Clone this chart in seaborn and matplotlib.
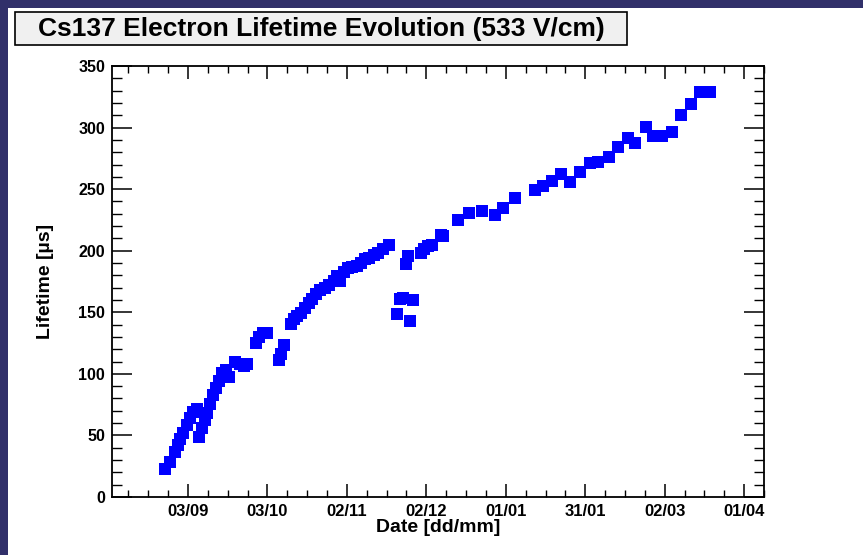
import numpy as np
import pandas as pd
import matplotlib
matplotlib.use("Agg")
import matplotlib.pyplot as plt
import seaborn as sns
from matplotlib.patches import Rectangle
from matplotlib.ticker import MultipleLocator, FixedLocator

# Days since 03/09
days = [-8.7, -6.8, -4.9, -3.8, -3.0, -1.9, -0.4, 0.8, 1.9, 3.4,
        4.2, 5.3, 6.4, 7.2, 8.3, 9.4, 10.6, 11.7, 12.8, 14.4,
        15.5, 17.7, 19.6, 21.1, 22.3,
        25.7, 26.8, 28.3, 29.8, 34.4, 35.1, 36.3,
        38.9, 40.0, 41.2, 42.7, 44.2, 45.7, 46.8, 48.3, 49.8, 51.7,
        53.2, 55.1, 56.3, 57.4, 58.9, 60.4, 61.9, 63.8, 65.3, 66.8,
        68.4, 70.2, 71.8, 73.6, 75.9,
        78.9, 80.1, 81.2, 82.3, 83.1, 83.8, 85.0,
        88.0, 89.1, 90.6, 92.1, 95.5, 96.3,
        102.0, 106.1, 111.0, 115.9, 119.0, 123.5,
        131.0, 134.1, 137.5, 140.9, 144.3, 148.0, 151.8, 154.8, 159.0,
        162.4, 166.2, 168.8, 173.0, 175.6, 179.0, 182.8, 186.2, 190.0,
        193.4, 197.1]
lifetime = [22.7, 28.4, 36.5, 42.0, 47.0, 52.0, 58.5, 64.0, 69.0, 71.5,
            48.7, 56.0, 62.5, 68.0, 75.5, 83.0, 88.5, 94.0, 100.7, 103.0,
            97.5, 109.6, 108.0, 106.4, 108.0,
            125.0, 130.0, 133.0, 133.0, 111.0, 116.0, 123.4,
            140.5, 144.5, 147.0, 149.4, 153.5, 157.5, 160.8, 164.9, 168.0, 169.7,
            172.0, 175.4, 179.5, 175.4, 182.7, 186.0, 186.8, 187.6, 190.0, 193.3,
            194.0, 196.5, 198.0, 201.4, 204.6,
            148.6, 160.8, 161.6, 189.0, 195.7, 143.0, 160.0,
            198.0, 201.4, 203.8, 204.6, 212.8, 212.0,
            225.0, 230.6, 232.3, 229.0, 234.7, 242.8,
            249.3, 252.6, 256.6, 262.3, 255.8, 264.0, 271.2, 272.0, 276.0,
            284.2, 291.5, 287.5, 300.5, 293.2, 293.2, 296.4, 310.2, 319.2,
            328.9, 328.9]

tick_days = [0, 30, 60, 90, 120, 150, 180, 210]
tick_labels = ["03/09", "03/10", "02/11", "02/12", "01/01", "31/01", "02/03", "01/04"]

title = "Cs137 Electron Lifetime Evolution (533 V/cm)"

sns.set_style("ticks")
plt.rcParams['font.family'] = ['Liberation Sans', 'DejaVu Sans']
plt.rcParams['font.weight'] = 'bold'
plt.rcParams['text.color'] = 'black'
plt.rcParams['axes.labelcolor'] = 'black'

W, H = 863, 555
fig = plt.figure(figsize=(W / 100, H / 100), dpi=100)
fig.patch.set_facecolor("white")

# navy frame bands
navy = "#31306a"
fig.add_artist(Rectangle((0, 1 - 8 / H), 1, 8 / H, transform=fig.transFigure,
                         facecolor=navy, edgecolor="none", zorder=0))
fig.add_artist(Rectangle((0, 0), 8 / W, 1, transform=fig.transFigure,
                         facecolor=navy, edgecolor="none", zorder=0))

ax = fig.add_axes([112 / W, 1 - 497 / H, (764 - 112) / W, (497 - 66) / H])
df = pd.DataFrame({"day": days, "lifetime": lifetime})
sns.scatterplot(data=df, x="day", y="lifetime", marker="s", s=72,
                color="#0000ff", linewidth=0, ax=ax, zorder=3)

ax.set_xlim(-28.7, 217.5)
ax.set_ylim(0, 350)
ax.xaxis.set_major_locator(FixedLocator(tick_days))
ax.set_xticklabels(tick_labels)
ax.xaxis.set_minor_locator(MultipleLocator(7.5))
ax.yaxis.set_major_locator(MultipleLocator(50))
ax.yaxis.set_minor_locator(MultipleLocator(10))

ax.tick_params(axis='x', which='major', direction='in', length=9.4, width=1.1,
               top=True, bottom=True, labelsize=12, pad=5, colors='black')
ax.tick_params(axis='x', which='minor', direction='in', length=4.7, width=1.0,
               top=True, bottom=True, colors='black')
ax.tick_params(axis='y', which='major', direction='in', length=14.4, width=1.1,
               left=True, right=True, labelsize=11.5, pad=5, colors='black')
ax.tick_params(axis='y', which='minor', direction='in', length=7.2, width=1.0,
               left=True, right=True, colors='black')
for lab in ax.get_xticklabels() + ax.get_yticklabels():
    lab.set_fontweight('bold')

for sp in ax.spines.values():
    sp.set_visible(True)
    sp.set_linewidth(1.3)
    sp.set_color('black')

ax.set_xlabel("Date [dd/mm]", fontsize=14, fontweight='bold', color='black')
ax.set_ylabel("Lifetime [µs]", fontsize=14, fontweight='bold', color='black')
ax.xaxis.set_label_coords(0.5, (497 - 519) / 431)
ax.yaxis.set_label_coords((54 - 112) / 653, 0.5)

# title box
fig.add_artist(Rectangle((15 / W, 1 - 45 / H), 612 / W, 33 / H, transform=fig.transFigure,
                         facecolor="#f0f0f0", edgecolor="black", linewidth=1.2, zorder=1))
fig.text(321 / W, 1 - 29 / H, title, ha='center', va='center', fontsize=19,
         fontweight='bold', color='black', zorder=2)

fig.savefig("out.png", dpi=100)
